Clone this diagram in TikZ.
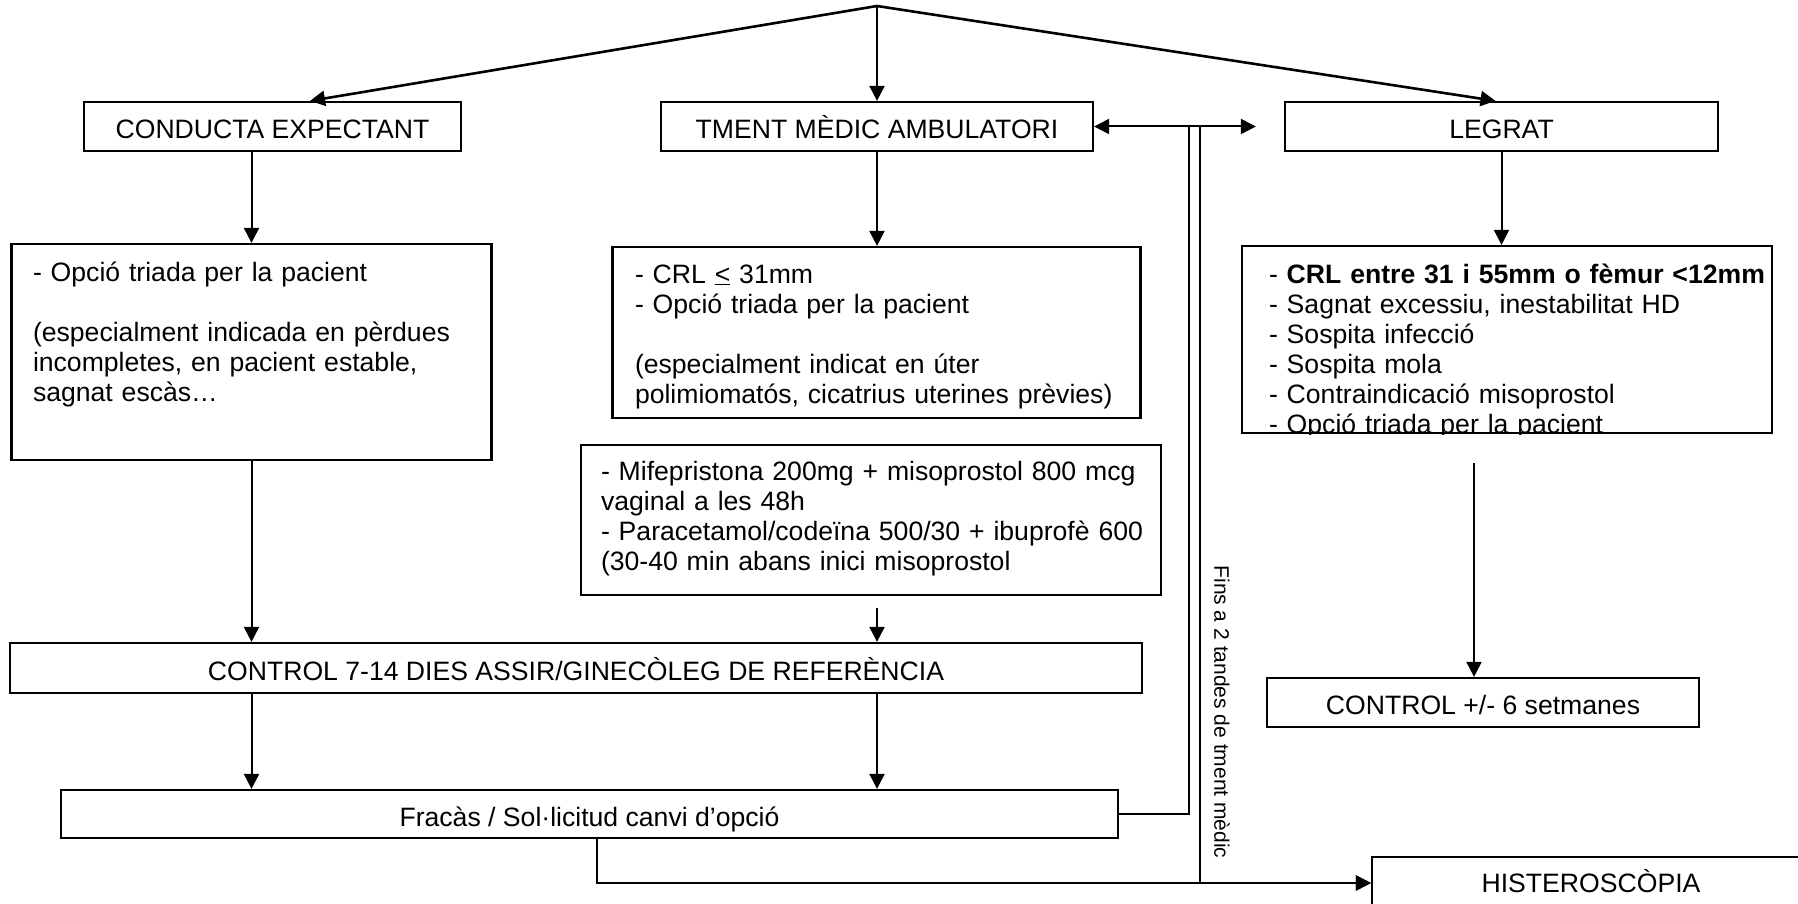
\documentclass[tikz,border=0pt]{standalone}
\usepackage{fontspec}
\setmainfont{Liberation Sans}
\usetikzlibrary{arrows.meta}

\begin{document}
\begin{tikzpicture}[x=1pt, y=-1pt, line width=2pt, >={Triangle[length=15pt,width=15pt]},
	box/.style={draw, line width=2.2pt, inner sep=0pt, text height=24pt, text depth=0pt, font=\fontsize{26.6}{30}\selectfont},
	txt/.style={anchor=base west, inner sep=0pt, text width=560pt, align=left, font=\fontsize{26.6}{30}\selectfont}]
	\useasboundingbox (0,0) rectangle (1798,904);
	\coordinate (top) at (877,6);
	\coordinate (loopA) at (1189,126.5);
	\coordinate (loopB) at (1200,126.5);
	\node[box, minimum width=377pt, minimum height=49pt] (cond) at (272.5,126.5) {CONDUCTA EXPECTANT};
	\node[box, minimum width=432pt, minimum height=49pt] (tment) at (877,126.5) {TMENT MÈDIC AMBULATORI};
	\node[box, minimum width=433pt, minimum height=49pt] (legrat) at (1501.5,126.5) {LEGRAT};
	\node[box, minimum width=480pt, minimum height=216pt] (opcio) at (251.5,352) {};
	\node[txt] (opcio-t) at (32,281) {- Opció triada per la pacient\\[30pt] (especialment indicada en pèrdues\\ incompletes, en pacient estable,\\ sagnat escàs…};
	\node[box, minimum width=528pt, minimum height=171pt] (crl) at (876.5,332.5) {};
	\node[txt] (crl-t) at (634,283) {- CRL \underline{<} 31mm\\ - Opció triada per la pacient\\[30pt] (especialment indicat en úter\\ polimiomatós, cicatrius uterines prèvies)};
	\node[box, minimum width=580pt, minimum height=150pt] (mife) at (871,520) {};
	\node[txt] (mife-t) at (600,480) {- Mifepristona 200mg + misoprostol 800 mcg\\ vaginal a les 48h\\ - Paracetamol/codeïna 500/30 + ibuprofè 600\\ (30-40 min abans inici misoprostol};
	\node[box, minimum width=530pt, minimum height=187pt] (risc) at (1507,339.5) {};
	\begin{scope}
		\clip (risc.south west) rectangle (risc.north east);
		\node[txt] (risc-t) at (1268,283) {- \textbf{CRL entre 31 i 55mm o fèmur <12mm}\\ - Sagnat excessiu, inestabilitat HD\\ - Sospita infecció\\ - Sospita mola\\ - Contraindicació misoprostol\\ - Opció triada per la pacient};
	\end{scope}
	\node[box, minimum width=1132pt, minimum height=50pt] (ctrl) at (576,668) {CONTROL 7-14 DIES ASSIR/GINECÒLEG DE REFERÈNCIA};
	\node[box, minimum width=1057pt, minimum height=48pt] (fracas) at (589.5,814) {Fracàs / Sol·licitud canvi d’opció};
	\node[box, minimum width=432.5pt, minimum height=49pt] (ctrlsix) at (1483,702.5) {CONTROL +/- 6 setmanes};
	\node[box, minimum width=438pt, minimum height=52pt, text depth=6pt] (histero) at (1591,883) {HISTEROSCÒPIA};
	\node[rotate=-90, inner sep=0pt, font=\fontsize{21}{24}\selectfont] (fins) at (1222,712) {Fins a 2 tandes de tment mèdic};
	% de dalt cap a les tres opcions
	\draw[->, line width=2.6pt] (top) -- ([xshift=37.5pt]cond.north);
	\draw[->] (top) -- (tment.north);
	\draw[->, line width=2.6pt] (top) -- ([xshift=-6pt]legrat.north);
	\draw[->] (opcio.north |- cond.south) -- (opcio.north);
	\draw[->] (tment.south) -- (tment.south |- crl.north);
	\draw[->] (legrat.south) -- (legrat.south |- risc.north);
	\draw[->] (opcio.south) -- (opcio.south |- ctrl.north);
	\draw[->] ([yshift=-12pt]tment.south |- mife.south) -- (tment.south |- ctrl.north);
	\draw[->] (opcio.south |- ctrl.south) -- (opcio.south |- fracas.north);
	\draw[->] (tment.south |- ctrl.south) -- (tment.south |- fracas.north);
	\draw[->] ([xshift=-9pt, yshift=-29pt]ctrlsix.north |- risc.south) -- ([xshift=-9pt]ctrlsix.north);
	% canvi d'opcio
	\draw[<->] (tment.east) -- ([xshift=-28pt]legrat.west);
	\draw (fracas.east) -| (loopA);
	\draw[->] (loopB) |- (histero.west);
	\draw[->] ([xshift=7.5pt]fracas.south) |- (histero.west);
\end{tikzpicture}
\end{document}
